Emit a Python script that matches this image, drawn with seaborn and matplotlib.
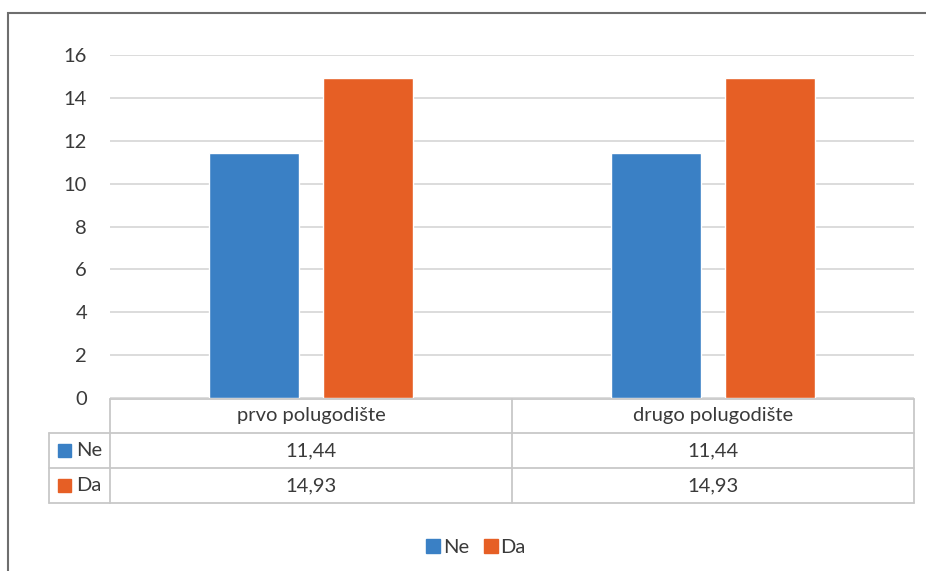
import matplotlib
matplotlib.use("Agg")
import matplotlib.pyplot as plt
import matplotlib.transforms as mtransforms
from matplotlib.lines import Line2D
from matplotlib.patches import Rectangle
import pandas as pd
import seaborn as sns

# data
categories = ["prvo polugodište", "drugo polugodište"]
series = ["Ne", "Da"]
ne_values = [11.44, 11.44]
da_values = [14.93, 14.93]
y_ticks = [0, 2, 4, 6, 8, 10, 12, 14, 16]
colors = {"Ne": "#3A80C5", "Da": "#E65F25"}

df = pd.DataFrame({
    "period": categories * 2,
    "group": ["Ne"] * len(categories) + ["Da"] * len(categories),
    "value": ne_values + da_values,
})

sns.set_theme(style="white")
plt.rcParams["font.family"] = ["Lato", "DejaVu Sans"]
txt = "#3A3A3A"
grid_c = "#D9D9D9"
tab_c = "#C8C8C8"
fs = 14.5

W, H = 926, 571
fig = plt.figure(figsize=(W / 100, H / 100), dpi=100)


def fx(px):
    return px / W


def fy(py):
    return 1 - py / H


ax = fig.add_axes([fx(110), fy(398), fx(914) - fx(110), fy(55) - fy(398)])
sns.barplot(data=df, x="period", y="value", hue="group", hue_order=series,
            palette=colors, width=0.568, gap=0.21, saturation=1,
            legend=False, ax=ax)
ax.set_ylim(0, 16)
ax.set_xlim(-0.5, len(categories) - 0.5)
ax.set_yticks(y_ticks)
ax.set_yticklabels([str(t) for t in y_ticks], fontsize=fs, color=txt)
ax.tick_params(axis="y", length=0, pad=16.5)
ax.set_xticks([])
ax.set_xlabel("")
ax.set_ylabel("")
ax.yaxis.grid(True, color=grid_c, lw=1.3)
ax.set_axisbelow(True)
for s in ax.spines.values():
    s.set_visible(False)

# data table under the plot
blend = mtransforms.blended_transform_factory(ax.transData, fig.transFigure)
rows_y = [399, 433, 468, 503]
left_px = 49


def hline(x0, x1, y, trans):
    fig.add_artist(Line2D([x0, x1], [fy(y), fy(y)], color=tab_c, lw=1.3,
                          transform=trans))


def vline(x, y0, y1, trans):
    fig.add_artist(Line2D([x, x], [fy(y0), fy(y1)], color=tab_c, lw=1.3,
                          transform=trans))


x_lo, x_hi = -0.5, len(categories) - 0.5
hline(x_lo, x_hi, rows_y[0], blend)
for y in rows_y[1:]:
    hline(fx(left_px), fx(110), y, fig.transFigure)
    hline(x_lo, x_hi, y, blend)
vline(fx(left_px), rows_y[1], rows_y[-1], fig.transFigure)
for i in range(len(categories) + 1):
    vline(i - 0.5, rows_y[0], rows_y[-1], blend)

for i, cat in enumerate(categories):
    fig.text(i, fy((rows_y[0] + rows_y[1]) / 2), cat, transform=blend,
             ha="center", va="center", fontsize=fs, color=txt)

row_vals = {"Ne": ne_values, "Da": da_values}
for r, name in enumerate(series):
    yc = (rows_y[r + 1] + rows_y[r + 2]) / 2
    fig.add_artist(Rectangle((fx(58), fy(yc + 6.5)), fx(13), 13 / H,
                             color=colors[name], transform=fig.transFigure))
    fig.text(fx(76), fy(yc), name, ha="left", va="center", fontsize=fs,
             color=txt)
    for i, v in enumerate(row_vals[name]):
        fig.text(i, fy(yc), f"{v:.2f}".replace(".", ","), transform=blend,
                 ha="center", va="center", fontsize=fs, color=txt)

# legend
handles = [Line2D([0], [0], marker="s", linestyle="", markersize=9.5,
                  markerfacecolor=colors[s], markeredgecolor=colors[s],
                  label=s) for s in series]
fig.legend(handles=handles, loc="center", bbox_to_anchor=(fx(476), fy(547)),
           ncol=2, frameon=False, fontsize=fs, handlelength=0.7,
           handletextpad=0.15, columnspacing=0.7, labelcolor=txt)

# chart area border
fig.add_artist(Rectangle((fx(8), fy(600)), fx(1000), 587 / H, fill=False,
                         edgecolor="#6E6E6E", lw=1.5,
                         transform=fig.transFigure))

fig.savefig("out.png", dpi=100)
